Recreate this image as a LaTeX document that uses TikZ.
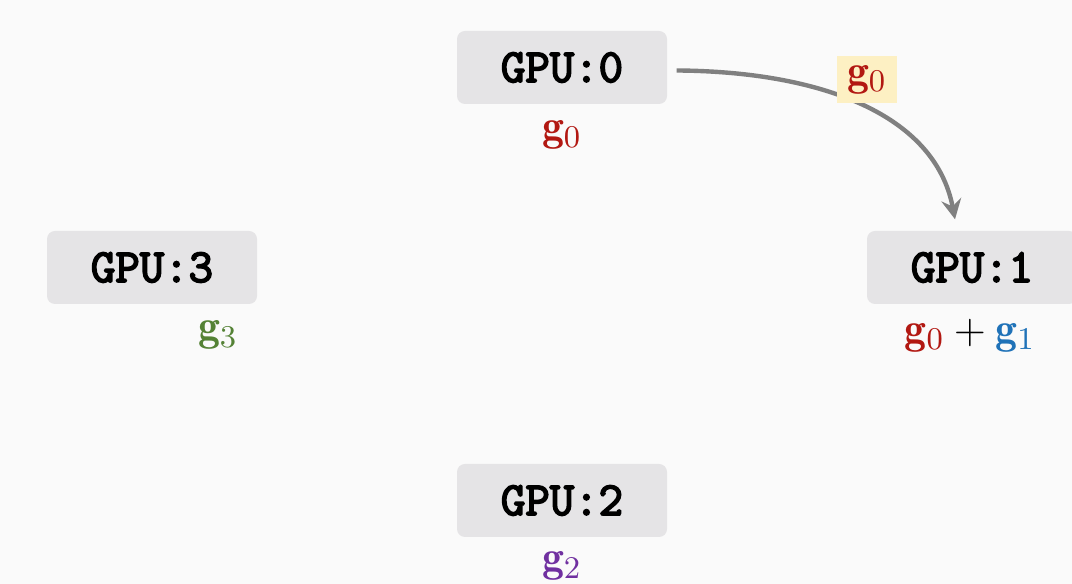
\documentclass[tikz,border=0pt]{standalone}
\usepackage{fontspec}
\newfontfamily\gpufont{Latin Modern Mono}[FakeBold=3.6]
\usepackage{amsmath}
\usepackage{tikz}
\usetikzlibrary{arrows,arrows.meta,positioning}
\definecolor{gred}{RGB}{178,24,18}
\definecolor{gblue}{RGB}{31,114,184}
\definecolor{ggreen}{RGB}{84,130,53}
\definecolor{gpurple}{RGB}{112,48,160}
\definecolor{boxgray}{RGB}{229,228,230}
\definecolor{hilite}{RGB}{253,240,195}
\definecolor{flowgray}{RGB}{128,128,128}
\tikzset{gpu/.style={fill=boxgray, rounded corners=0.08cm, minimum width=2.1cm, minimum height=0.73cm, inner sep=0pt, font=\fontsize{13.5}{16}\gpufont},
grad/.style={inner sep=1pt, font=\fontsize{12.5}{15}\selectfont},
chunk/.style={fill=hilite, minimum width=0.6cm, minimum height=0.47cm, inner sep=0pt, font=\fontsize{12.5}{15}\selectfont},
flow/.style={draw=flowgray, line width=1.25pt, -{Stealth[length=0.2cm,width=0.2cm,inset=0.07cm]}}
      }

\begin{document}
\begin{tikzpicture}
                \fill[white!98!black] (0,0) rectangle (10.72,5.84);
                \useasboundingbox (0,0) rectangle (10.72,5.84);
                \node[gpu] (gpu0) at (5.62,5.165) {GPU:0};
                \node[gpu] (gpu1) at (9.72,3.165) {GPU:1};
                \node[gpu] (gpu2) at (5.62,0.835) {GPU:2};
                \node[gpu] (gpu3) at (1.52,3.165) {GPU:3};
                \node[grad, below=0.12cm of gpu0] (g0) {$\color{gred}\mathbf{g}_0$};
                \node[grad, below=0.1cm of gpu1, xshift=-0.02cm] (g01) {${\color{gred}\mathbf{g}_0} + {\color{gblue}\mathbf{g}_1}$};
                \node[grad, below=0.1cm of gpu2] (g2) {$\color{gpurple}\mathbf{g}_2$};
                \node[grad, below=0.12cm of gpu3, xshift=0.66cm] (g3) {$\color{ggreen}\mathbf{g}_3$};
                \draw[flow] ([xshift=0.09cm,yshift=-0.03cm]gpu0.east) .. controls +(1.44,-0.01) and +(-0.2,1.05) .. ([xshift=-0.17cm,yshift=0.11cm]gpu1.north);
                \node[chunk] (sent) at (8.67,5.04) {$\color{gred}\mathbf{g}_0$};
            \end{tikzpicture}
\end{document}
